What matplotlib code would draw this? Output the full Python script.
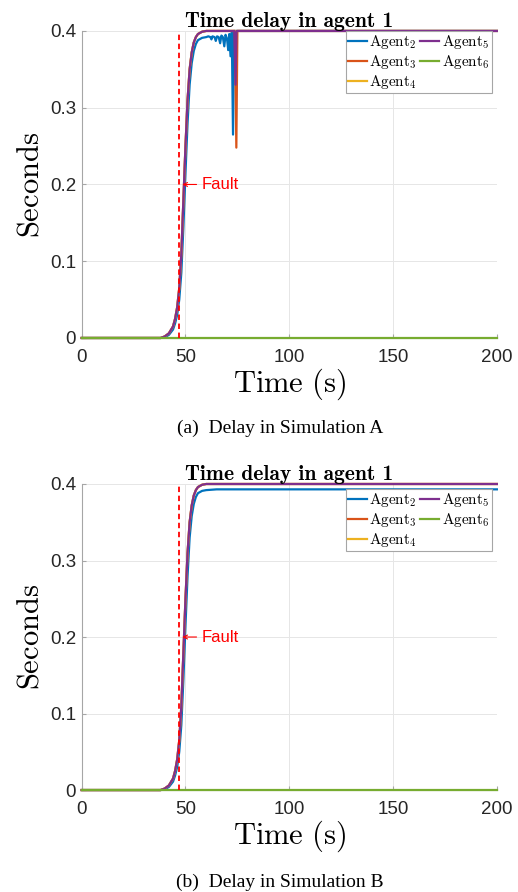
import matplotlib
matplotlib.use('Agg')
import matplotlib.pyplot as plt

plt.rcParams['mathtext.fontset'] = 'cm'

# Time delay seen by agent 1 (seconds)
t_rise = [0, 38, 40, 42, 44, 45, 46, 47, 48, 49, 50, 51, 52, 53, 54, 55, 56, 58, 60]
purple_rise = [0, 0, 0.002, 0.006, 0.015, 0.025, 0.04, 0.065, 0.11, 0.18, 0.25,
               0.31, 0.35, 0.372, 0.385, 0.392, 0.396, 0.399, 0.4]
blue_rise = [0, 0, 0.001, 0.004, 0.011, 0.019, 0.03, 0.05, 0.085, 0.145, 0.215,
             0.28, 0.33, 0.358, 0.374, 0.383, 0.388, 0.391, 0.392]

# Simulation A: oscillations before the switch at ~73 s
t_blue_a_tail = [61, 62, 62.5, 63, 64, 64.6, 65.2, 66, 66.7, 67.3, 68, 68.7, 69.3,
                 70, 70.6, 71.1, 71.7, 72.3, 72.9, 73.4, 200]
blue_a_tail = [0.393, 0.392, 0.389, 0.393, 0.392, 0.387, 0.393, 0.392, 0.384, 0.394,
               0.392, 0.38, 0.395, 0.39, 0.375, 0.396, 0.367, 0.398, 0.265, 0.4, 0.4]
t_orange_a_tail = [73.8, 74.5, 75, 200]
orange_a_tail = [0.4, 0.248, 0.4, 0.4]
t_purple_a_tail = [73.5, 74.1, 74.6, 200]
purple_a_tail = [0.4, 0.33, 0.4, 0.4]
t_flat_tail = [200]
flat_tail = [0.4]

# Simulation B: agent 2 settles slightly lower
t_blue_b_tail = [65, 200]
blue_b_tail = [0.393, 0.393]

t_zero = [0, 200]
green_zero = [0, 0]

fault_time = 47
agents = [r'$\mathrm{Agent}_2$', r'$\mathrm{Agent}_3$', r'$\mathrm{Agent}_4$',
          r'$\mathrm{Agent}_5$', r'$\mathrm{Agent}_6$']
colors = ['#0072BD', '#D95319', '#EDB120', '#7E2F8E', '#77AC30']

sims = {
    'A': {
        'series': [
            (t_rise + t_blue_a_tail, blue_rise + blue_a_tail),
            (t_rise + t_orange_a_tail, purple_rise + orange_a_tail),
            (t_rise + t_flat_tail, purple_rise + flat_tail),
            (t_rise + t_purple_a_tail, purple_rise + purple_a_tail),
            (t_zero, green_zero),
        ],
        'caption': '(a)  Delay in Simulation A',
        'legend_top': 1.0,
    },
    'B': {
        'series': [
            (t_rise + t_blue_b_tail, blue_rise + blue_b_tail),
            (t_rise + t_flat_tail, purple_rise + flat_tail),
            (t_rise + t_flat_tail, purple_rise + flat_tail),
            (t_rise + t_flat_tail, purple_rise + flat_tail),
            (t_zero, green_zero),
        ],
        'caption': '(b)  Delay in Simulation B',
        'legend_top': 0.984,
    },
}

x_ticks = [0, 50, 100, 150, 200]
y_ticks = [0, 0.1, 0.2, 0.3, 0.4]
y_tick_labels = ['0', '0.1', '0.2', '0.3', '0.4']

fig = plt.figure(figsize=(5.18, 8.92), dpi=100)
axes_pos = {'A': [0.1577, 0.6211, 0.8015, 0.3442], 'B': [0.1577, 0.1143, 0.8015, 0.3431]}
caption_y = {'A': 0.520, 'B': 0.011}


def plot_sim(ax, sim):
    for (t, d), label, color in zip(sim['series'], agents, colors):
        ax.plot(t, d, color=color, linewidth=1.6, label=label, clip_on=False, zorder=3)
    ax.plot([fault_time, fault_time], [0, 0.4], color='#FF0000', linestyle=(0, (3, 2)),
            linewidth=1.3, zorder=4)
    ax.annotate('Fault', xy=(fault_time + 1.5, 0.2), xytext=(fault_time + 11, 0.2),
                color='#FF0000', fontsize=12, family='Liberation Sans',
                va='center', ha='left',
                arrowprops=dict(arrowstyle='->', color='#FF0000', lw=0.8,
                                shrinkA=2, shrinkB=0, mutation_scale=7))

    ax.set_xlim(0, 200)
    ax.set_ylim(0, 0.4)
    ax.set_xticks(x_ticks)
    ax.set_yticks(y_ticks)
    ax.set_yticklabels(y_tick_labels)
    for lbl in ax.get_xticklabels() + ax.get_yticklabels():
        lbl.set_family('Liberation Sans')
        lbl.set_fontsize(13.5)
        lbl.set_color('#262626')
    ax.tick_params(direction='in', length=3, color='#a6a6a6')
    ax.tick_params(axis='x', pad=8)
    ax.tick_params(axis='y', pad=4)
    ax.grid(True, color='#e6e6e6', linewidth=0.7)
    ax.set_axisbelow(True)
    for side in ['top', 'right']:
        ax.spines[side].set_visible(False)
    for side in ['left', 'bottom']:
        ax.spines[side].set_color('#a6a6a6')
        ax.spines[side].set_linewidth(0.8)

    ax.set_title('Time delay in agent 1', family='cmb10', fontsize=15.5, pad=3)
    ax.set_xlabel(r'$\mathrm{Time\ (s)}$', fontsize=22, labelpad=0)
    ax.set_ylabel(r'$\mathrm{Seconds}$', fontsize=22, labelpad=4)

    leg = ax.legend(ncol=2, loc='upper right', bbox_to_anchor=(0.988, sim['legend_top']),
                    fontsize=11, handlelength=1.25, handletextpad=0.15, columnspacing=0.2,
                    labelspacing=0.12, borderpad=0.15, borderaxespad=0, fancybox=False,
                    framealpha=1, edgecolor='#a6a6a6')
    leg.get_frame().set_linewidth(0.8)
    leg.set_zorder(5)


for key in ['A', 'B']:
    ax = fig.add_axes(axes_pos[key])
    plot_sim(ax, sims[key])
    fig.text(0.54, caption_y[key], sims[key]['caption'], family='Liberation Serif',
             fontsize=14, ha='center', va='center')

fig.savefig('out.png', dpi=100)
